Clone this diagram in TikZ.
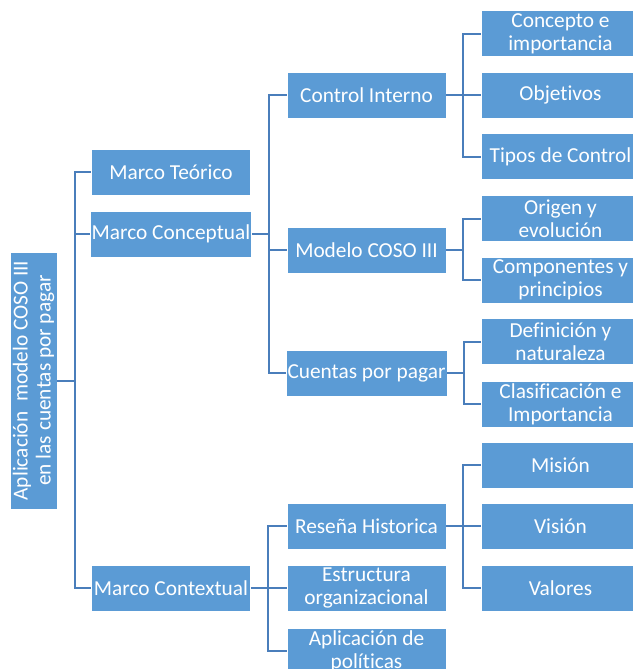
\documentclass[tikz,border=0pt]{standalone}
\usepackage{fontspec}
\setmainfont{Carlito}[Ligatures=NoCommon]
\definecolor{cajaazul}{HTML}{5B9BD5}
\definecolor{lineaazul}{HTML}{4A7EBB}
\tikzset{
    caja/.style = {fill=cajaazul, draw=white, line width=0.4pt, text=white,
        align=center, inner sep=1pt, minimum width=119.25pt,
        minimum height=34.5pt, font=\fontsize{16}{17.25}\selectfont},
    enlace/.style = {draw=lineaazul, line width=1.5pt},
}

\begin{document}
\begin{tikzpicture} [x=0.75pt, y=-0.75pt]
    \useasboundingbox (0, 0) rectangle (633, 669);
    \clip (0, 0) rectangle (633, 669);

    \node[caja, rotate=90, minimum width=192.75pt, minimum height=35.25pt]
        (raiz) at (33.5, 380.5)
        {Aplicación\ \ modelo COSO III\\en las cuentas por pagar};

    \node[caja] (teorico) at (171, 172) {Marco Teórico};
    \node[caja] (conceptual) at (171, 234) {Marco Conceptual};
    \node[caja] (contextual) at (171, 588) {Marco Contextual};

    \node[caja] (control) at (366.5, 95) {Control Interno};
    \node[caja] (coso) at (366.5, 250) {Modelo COSO III};
    \node[caja] (cuentas) at (366.5, 373) {Cuentas por pagar};
    \node[caja] (resena) at (366.5, 526) {Reseña Historica};
    \node[caja] (estructura) at (366.5, 588) {Estructura\\organizacional};
    \node[caja] (politicas) at (366.5, 651) {Aplicación de\\políticas};

    \node[caja] (concepto) at (560.5, 33.5) {Concepto e\\importancia};
    \node[caja] (objetivos) at (560.5, 95) {Objetivos};
    \node[caja] (tipos) at (560.5, 156.5) {Tipos de Control};
    \node[caja] (origen) at (560.5, 218.5) {Origen y\\evolución};
    \node[caja] (componentes) at (560.5, 280) {Componentes y\\principios};
    \node[caja] (definicion) at (560.5, 341.5) {Definición y\\naturaleza};
    \node[caja] (clasificacion) at (560.5, 404) {Clasificación e\\Importancia};
    \node[caja] (mision) at (560.5, 465) {Misión};
    \node[caja] (vision) at (560.5, 526) {Visión};
    \node[caja] (valores) at (560.5, 588) {Valores};

    \draw[enlace] (raiz.south) -- ++(18, 0) coordinate (b0);
    \foreach \n in {teorico, conceptual, contextual}
        \draw[enlace] (b0) |- (\n.west);

    \draw[enlace] (conceptual.east) -- ++(17, 0) coordinate (b1);
    \foreach \n in {control, coso, cuentas}
        \draw[enlace] (b1) |- (\n.west);
    \draw[enlace] (contextual.east) -- ++(17, 0) coordinate (b2);
    \foreach \n in {resena, estructura, politicas}
        \draw[enlace] (b2) |- (\n.west);

    \draw[enlace] (control.east) -- ++(17, 0) coordinate (b3);
    \foreach \n in {concepto, objetivos, tipos}
        \draw[enlace] (b3) |- (\n.west);
    \draw[enlace] (coso.east) -- ++(17, 0) coordinate (b4);
    \foreach \n in {origen, componentes}
        \draw[enlace] (b4) |- (\n.west);
    \draw[enlace] (cuentas.east) -- ++(17, 0) coordinate (b5);
    \foreach \n in {definicion, clasificacion}
        \draw[enlace] (b5) |- (\n.west);
    \draw[enlace] (resena.east) -- ++(17, 0) coordinate (b6);
    \foreach \n in {mision, vision, valores}
        \draw[enlace] (b6) |- (\n.west);
\end{tikzpicture}
\end{document}
